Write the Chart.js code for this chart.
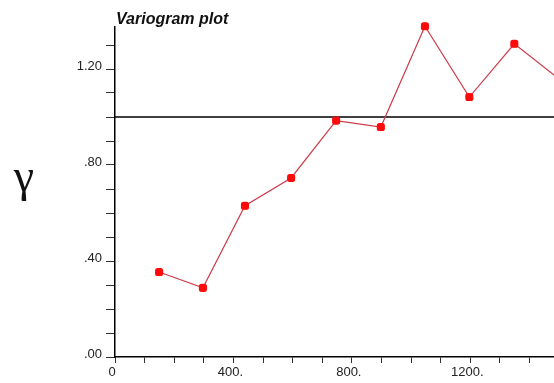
<!DOCTYPE html>
<html>
<head>
<meta charset="utf-8">
<script src="https://cdn.jsdelivr.net/npm/chart.js@4"></script>
<style>
  body { margin: 0; background: #fff; }
  #wrap { position: relative; width: 554px; height: 383px; }
</style>
</head>
<body>
<div id="wrap"><canvas id="vario" width="554" height="383"></canvas></div>
<script>
// variogram values
var lags = [149, 297, 439, 595, 747, 898, 1047, 1197, 1349, 1500];
var gammas = [0.354, 0.288, 0.63, 0.746, 0.985, 0.958, 1.378, 1.083, 1.305, 1.159];
var sill = 1.0;

// axis ticks
var xTicks = [0, 100, 200, 300, 400, 500, 600, 700, 800, 900, 1000, 1100, 1200, 1300, 1400];
var xTickLabels = ['0', '', '', '', '400.', '', '', '', '800.', '', '', '', '1200.', '', ''];
var yTicks = [0, 0.1, 0.2, 0.3, 0.4, 0.5, 0.6, 0.7, 0.8, 0.9, 1.0, 1.1, 1.2, 1.3];
var yTickLabels = ['.00', '', '', '', '.40', '', '', '', '.80', '', '', '', '1.20', ''];

var titleText = 'Variogram plot';
var yTitleText = '\u03B3';

var points = [];
for (var i = 0; i < lags.length; i++) {
  points.push({x: lags[i], y: gammas[i]});
}

// title + gamma symbol
var textPlugin = {
  id: 'textPlugin',
  afterDraw: function(chart) {
    var ctx = chart.ctx;
    ctx.save();
    ctx.fillStyle = '#111';
    ctx.font = 'italic bold 16px "Liberation Sans", Arial, sans-serif';
    ctx.textAlign = 'left';
    ctx.textBaseline = 'alphabetic';
    ctx.fillText(titleText, 116, 24);
    ctx.font = '46px "Liberation Serif", "DejaVu Serif", serif';
    ctx.textAlign = 'center';
    ctx.fillText(yTitleText, 24, 191);
    ctx.restore();
  }
};

var ctx = document.getElementById('vario');
var chart = new Chart(ctx, {
  type: 'line',
  data: {
    datasets: [{
      data: points,
      clip: false,
      borderColor: '#cc3a4a',
      borderWidth: 1.2,
      backgroundColor: '#ff0000',
      pointBackgroundColor: '#ff0a0a',
      pointBorderColor: '#ff0a0a',
      pointRadius: 4,
      pointStyle: 'rectRounded',
      tension: 0
    }, {
      data: [{x: 0, y: sill}, {x: 1483, y: sill}],
      borderColor: '#000',
      borderWidth: 1.5,
      pointRadius: 0,
      tension: 0
    }]
  },
  options: {
    responsive: false,
    devicePixelRatio: 1,
    animation: false,
    layout: { autoPadding: false, padding: { top: 27, left: 0, right: 0, bottom: 0 } },
    plugins: {
      legend: { display: false },
      tooltip: { enabled: false },
      title: { display: false }
    },
    scales: {
      x: {
        type: 'linear',
        min: 0,
        max: 1483,
        afterBuildTicks: function(scale) {
          scale.ticks = xTicks.map(function(v) { return {value: v}; });
        },
        afterFit: function(scale) {
          scale.height = 26;
          scale.paddingRight = 0;
          scale.paddingLeft = 0;
        },
        border: { color: '#000', width: 1.5 },
        grid: { drawOnChartArea: false, drawTicks: true, tickLength: 6, tickColor: '#333' },
        ticks: {
          autoSkip: false,
          maxRotation: 0,
          padding: 2,
          labelOffset: -3,
          color: '#222',
          font: { family: '"Liberation Sans", Arial, sans-serif', size: 13 },
          callback: function(value, index) { return xTickLabels[index]; }
        }
      },
      y: {
        type: 'linear',
        min: 0,
        max: 1.375,
        afterBuildTicks: function(scale) {
          scale.ticks = yTicks.map(function(v) { return {value: v}; });
        },
        afterFit: function(scale) {
          scale.width = 115;
          scale.paddingTop = 0;
          scale.paddingBottom = 0;
        },
        border: { color: '#000', width: 1.5 },
        grid: { drawOnChartArea: false, drawTicks: true, tickLength: 9, tickColor: '#333' },
        ticks: {
          autoSkip: false,
          padding: 4,
          labelOffset: -3,
          color: '#222',
          font: { family: '"Liberation Sans", Arial, sans-serif', size: 13 },
          callback: function(value, index) { return yTickLabels[index]; }
        }
      }
    }
  },
  plugins: [textPlugin]
});
</script>
</body>
</html>
